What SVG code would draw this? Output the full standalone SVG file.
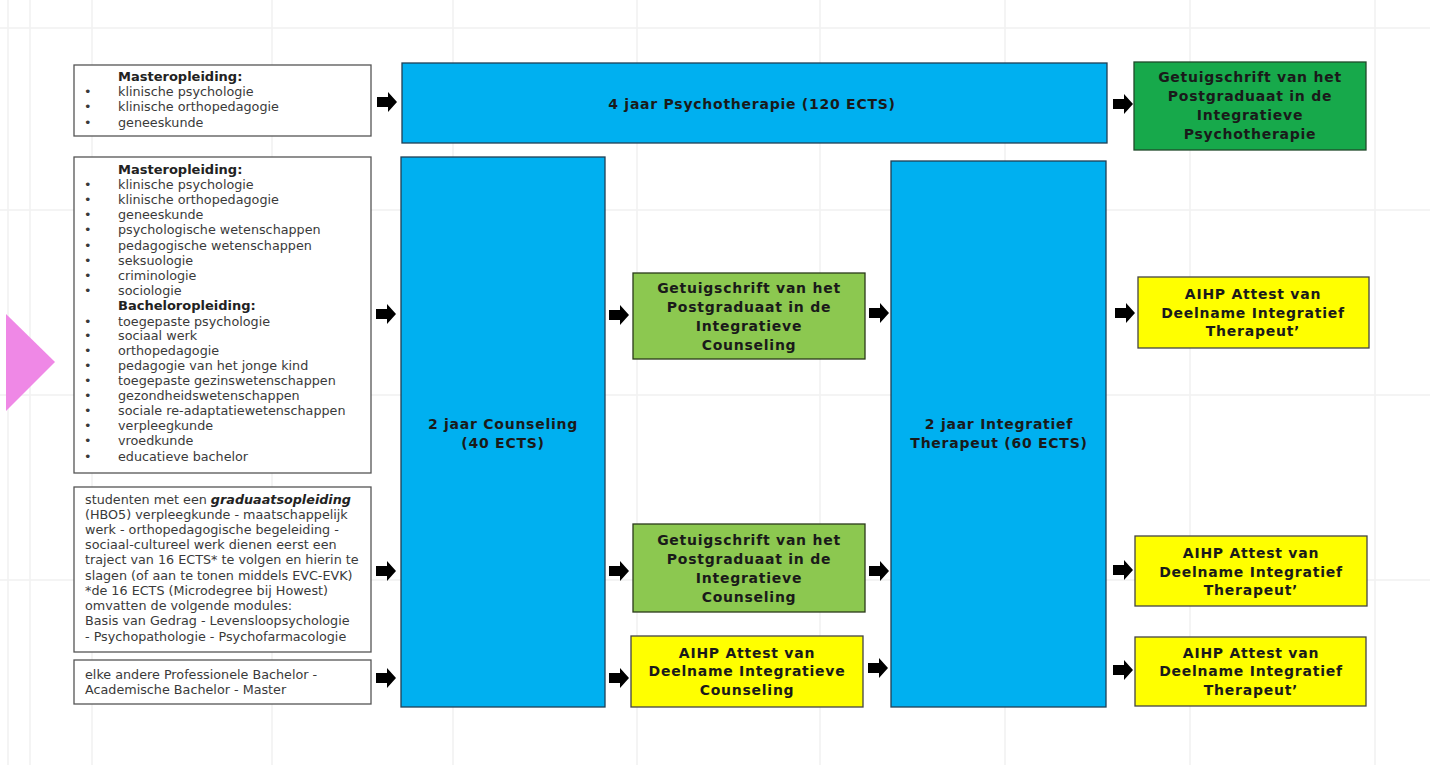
<svg xmlns="http://www.w3.org/2000/svg" width="1430" height="765" viewBox="0 0 1430 765">
<style>
.grid{stroke:#f1f1f1;stroke-width:1.5;fill:none}
.src{fill:#fff;stroke:#555;stroke-width:1.3}
.blue{fill:#00b0f0;stroke:#1f3f55;stroke-width:1.3}
.dg{fill:#17a94b;stroke:#1f4a2a;stroke-width:1.3}
.lg{fill:#8cc850;stroke:#2a3a1a;stroke-width:1.3}
.yl{fill:#ffff00;stroke:#444;stroke-width:1.3}
.t{font-family:"DejaVu Sans",Verdana,sans-serif;font-size:12.75px;fill:#3a3a3a}
.tb{font-family:"DejaVu Sans",Verdana,sans-serif;font-size:13px;font-weight:bold;fill:#222}
.h{font-family:"DejaVu Sans",Verdana,sans-serif;font-size:14px;letter-spacing:0.75px;font-weight:bold;fill:#1a1a1a;text-anchor:middle}
.arr{fill:#000}
</style>
<defs>
<path id="ar" d="M0,-5 H11 V-10 L20,0 L11,10 V5 H0 Z"/>
</defs>
<rect width="1430" height="765" fill="#fff"/>
<g id="grid" class="grid">
<path d="M8,0V765M30,0V765M92,0V765M272,0V765M453,0V765M637,0V765M820,0V765M1005,0V765M1190,0V765M1375,0V765"/>
<path d="M0,28H1430M0,210H1430M0,395H1430M0,580H1430"/>
</g>
<polygon id="pointer" points="6,314 55,362 6,411" fill="#ef88e6"/>

<g id="srcA">
<rect class="src" x="74" y="65" width="297" height="71"/>
<text class="tb" x="118" y="81">Masteropleiding:</text>
<g class="t">
<text x="84" y="96">•</text><text x="118" y="96">klinische psychologie</text>
<text x="84" y="111">•</text><text x="118" y="111">klinische orthopedagogie</text>
<text x="84" y="127">•</text><text x="118" y="127">geneeskunde</text>
</g>
</g>

<g id="srcB">
<rect class="src" x="74" y="157" width="297" height="316"/>
<text class="tb" x="118" y="174">Masteropleiding:</text>
<g class="t">
<text x="84" y="189">•</text><text x="118" y="189">klinische psychologie</text>
<text x="84" y="204">•</text><text x="118" y="204">klinische orthopedagogie</text>
<text x="84" y="219">•</text><text x="118" y="219">geneeskunde</text>
<text x="84" y="234">•</text><text x="118" y="234">psychologische wetenschappen</text>
<text x="84" y="250">•</text><text x="118" y="250">pedagogische wetenschappen</text>
<text x="84" y="265">•</text><text x="118" y="265">seksuologie</text>
<text x="84" y="280">•</text><text x="118" y="280">criminologie</text>
<text x="84" y="295">•</text><text x="118" y="295">sociologie</text>
</g>
<text class="tb" x="118" y="310">Bacheloropleiding:</text>
<g class="t">
<text x="84" y="326">•</text><text x="118" y="326">toegepaste psychologie</text>
<text x="84" y="340">•</text><text x="118" y="340">sociaal werk</text>
<text x="84" y="355">•</text><text x="118" y="355">orthopedagogie</text>
<text x="84" y="370">•</text><text x="118" y="370">pedagogie van het jonge kind</text>
<text x="84" y="385">•</text><text x="118" y="385">toegepaste gezinswetenschappen</text>
<text x="84" y="400">•</text><text x="118" y="400">gezondheidswetenschappen</text>
<text x="84" y="415">•</text><text x="118" y="415">sociale re-adaptatiewetenschappen</text>
<text x="84" y="430">•</text><text x="118" y="430">verpleegkunde</text>
<text x="84" y="445">•</text><text x="118" y="445">vroedkunde</text>
<text x="84" y="461">•</text><text x="118" y="461">educatieve bachelor</text>
</g>
</g>

<g id="srcC">
<rect class="src" x="74" y="487" width="297" height="165"/>
<g class="t">
<text x="85" y="504">studenten met een <tspan font-weight="bold" font-style="italic" fill="#222">graduaatsopleiding</tspan></text>
<text x="85" y="519">(HBO5) verpleegkunde - maatschappelijk</text>
<text x="85" y="534">werk - orthopedagogische begeleiding -</text>
<text x="85" y="549">sociaal-cultureel werk dienen eerst een</text>
<text x="85" y="564">traject van 16 ECTS* te volgen en hierin te</text>
<text x="85" y="580">slagen (of aan te tonen middels EVC-EVK)</text>
<text x="85" y="595">*de 16 ECTS (Microdegree bij Howest)</text>
<text x="85" y="610">omvatten de volgende modules:</text>
<text x="85" y="625">Basis van Gedrag - Levensloopsychologie</text>
<text x="85" y="641">- Psychopathologie - Psychofarmacologie</text>
</g>
</g>

<g id="srcD">
<rect class="src" x="74" y="660" width="297" height="44"/>
<g class="t">
<text x="85" y="679">elke andere Professionele Bachelor -</text>
<text x="85" y="694">Academische Bachelor - Master</text>
</g>
</g>

<g id="psycho">
<rect class="blue" x="402" y="63" width="705" height="80"/>
<text class="h" x="752" y="109">4 jaar Psychotherapie (120 ECTS)</text>
</g>

<g id="certPsycho">
<rect class="dg" x="1134" y="62" width="232" height="88"/>
<text class="h" x="1250" y="82">Getuigschrift  van het</text>
<text class="h" x="1250" y="101">Postgraduaat  in de</text>
<text class="h" x="1250" y="120">Integratieve</text>
<text class="h" x="1250" y="139">Psychotherapie</text>
</g>

<g id="counseling">
<rect class="blue" x="401" y="157" width="204" height="550"/>
<text class="h" x="503" y="429">2 jaar Counseling</text>
<text class="h" x="503" y="448">(40 ECTS)</text>
</g>

<g id="certCounsel1">
<rect class="lg" x="633" y="273" width="232" height="86"/>
<text class="h" x="749" y="293">Getuigschrift  van het</text>
<text class="h" x="749" y="312">Postgraduaat  in de</text>
<text class="h" x="749" y="331">Integratieve</text>
<text class="h" x="749" y="350">Counseling</text>
</g>

<g id="certCounsel2">
<rect class="lg" x="633" y="524" width="232" height="88"/>
<text class="h" x="749" y="545">Getuigschrift  van het</text>
<text class="h" x="749" y="564">Postgraduaat  in de</text>
<text class="h" x="749" y="583">Integratieve</text>
<text class="h" x="749" y="602">Counseling</text>
</g>

<g id="attestCounsel">
<rect class="yl" x="631" y="636" width="232" height="71"/>
<text class="h" x="747" y="658">AIHP  Attest van</text>
<text class="h" x="747" y="676">Deelname  Integratieve</text>
<text class="h" x="747" y="695">Counseling</text>
</g>

<g id="integratief">
<rect class="blue" x="891" y="161" width="215" height="546"/>
<text class="h" x="999" y="429">2 jaar Integratief</text>
<text class="h" x="999" y="448">Therapeut (60 ECTS)</text>
</g>

<g id="attestTher1">
<rect class="yl" x="1138" y="277" width="231" height="71"/>
<text class="h" x="1253" y="299">AIHP  Attest van</text>
<text class="h" x="1253" y="318">Deelname  Integratief</text>
<text class="h" x="1253" y="336">Therapeut’</text>
</g>

<g id="attestTher2">
<rect class="yl" x="1135" y="536" width="232" height="70"/>
<text class="h" x="1251" y="558">AIHP  Attest van</text>
<text class="h" x="1251" y="577">Deelname  Integratief</text>
<text class="h" x="1251" y="595">Therapeut’</text>
</g>

<g id="attestTher3">
<rect class="yl" x="1135" y="637" width="231" height="69"/>
<text class="h" x="1251" y="658">AIHP  Attest van</text>
<text class="h" x="1251" y="676">Deelname  Integratief</text>
<text class="h" x="1251" y="695">Therapeut’</text>
</g>

<g id="connectors" class="arr">
<use href="#ar" x="377" y="102"/>
<use href="#ar" x="376" y="314"/>
<use href="#ar" x="376" y="571"/>
<use href="#ar" x="376" y="678"/>
<use href="#ar" x="609" y="315"/>
<use href="#ar" x="609" y="571"/>
<use href="#ar" x="609" y="678"/>
<use href="#ar" x="869" y="313"/>
<use href="#ar" x="869" y="571"/>
<use href="#ar" x="868" y="668"/>
<use href="#ar" x="1113" y="104"/>
<use href="#ar" x="1115" y="313"/>
<use href="#ar" x="1113" y="570"/>
<use href="#ar" x="1113" y="670"/>
</g>
</svg>
